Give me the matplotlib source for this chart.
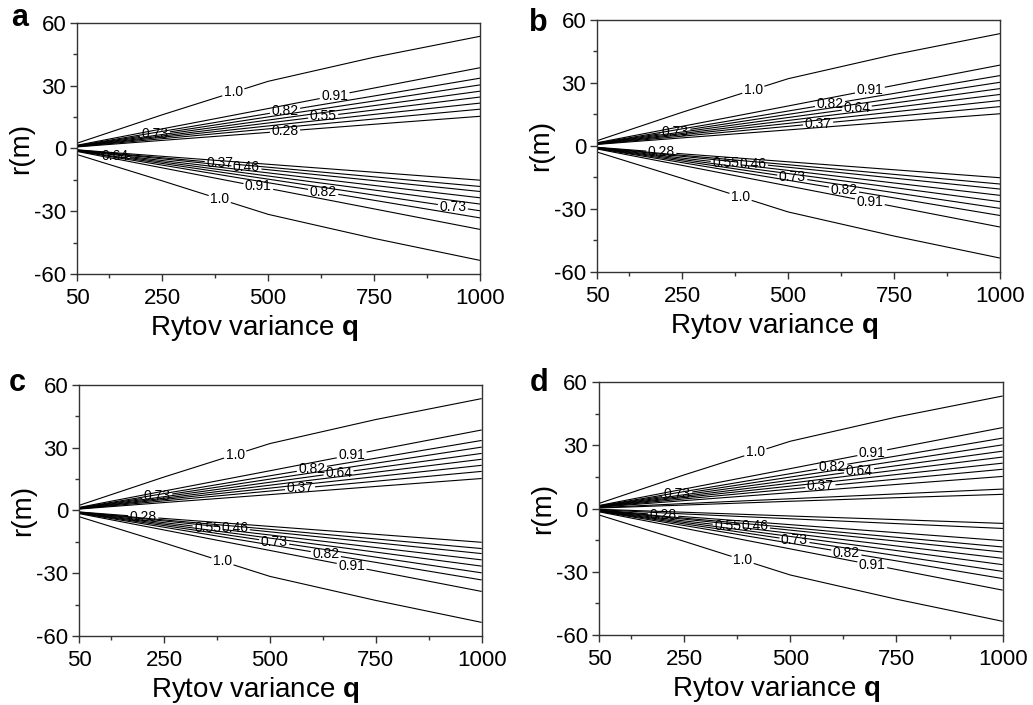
import matplotlib
matplotlib.use("Agg")
import matplotlib.pyplot as plt
import numpy as np
from matplotlib.ticker import FixedLocator, MultipleLocator

plt.rcParams["font.family"] = ["Liberation Sans", "DejaVu Sans"]
plt.rcParams["mathtext.fontset"] = "custom"
plt.rcParams["mathtext.rm"] = "Liberation Sans"
plt.rcParams["mathtext.bf"] = "Liberation Sans:bold"
plt.rcParams["axes.unicode_minus"] = False

W, H = 1033, 705

# sample positions along the Rytov variance axis
Q = [50, 250, 500, 750, 1000]
LEVELS = ["1.0", "0.91", "0.82", "0.73", "0.64", "0.55", "0.46", "0.37", "0.28"]

# r(m) of each contour at Q, upper fan (r > 0) and lower fan (r < 0)
UPPER_R = [
    [2.5, 16.0, 32.0, 43.5, 53.5],
    [1.5, 9.3, 19.0, 28.8, 38.5],
    [1.3, 8.1, 16.6, 25.0, 33.5],
    [1.2, 7.3, 15.0, 22.6, 30.3],
    [1.1, 6.6, 13.5, 20.4, 27.3],
    [1.0, 5.9, 12.1, 18.3, 24.5],
    [0.9, 5.3, 10.7, 16.2, 21.6],
    [0.8, 4.6, 9.3, 14.0, 18.7],
    [0.7, 3.8, 7.6, 11.5, 15.3],
]
LOWER_R = [
    [-3.0, -15.5, -31.5, -43.0, -53.5],
    [-1.5, -9.3, -19.1, -28.9, -38.7],
    [-1.3, -8.0, -16.4, -24.8, -33.2],
    [-1.2, -7.2, -14.7, -22.3, -29.8],
    [-1.1, -6.5, -13.2, -19.9, -26.6],
    [-1.0, -5.8, -11.7, -17.7, -23.6],
    [-0.9, -5.0, -10.2, -15.4, -20.6],
    [-0.8, -4.5, -9.0, -13.6, -18.2],
    [-0.7, -3.8, -7.6, -11.4, -15.2],
]
# two additional inner contours that only appear in panel d
D_EXTRA_UPPER_R = [[0.5, 2.4, 4.7, 7.0, 9.3], [0.3, 1.7, 3.5, 5.2, 6.8]]
D_EXTRA_LOWER_R = [[-0.3, -1.7, -3.5, -5.2, -7.0], [-0.5, -2.5, -4.8, -7.1, -9.4]]

# contour labels: (fan, level, q position)
LABELS_A = [
    ("up", "1.0", 418), ("up", "0.91", 657), ("up", "0.82", 540),
    ("up", "0.55", 630), ("up", "0.28", 540), ("up", "0.73", 233),
    ("low", "0.64", 139), ("low", "0.37", 386), ("low", "0.46", 449),
    ("low", "0.91", 477), ("low", "0.82", 630), ("low", "0.73", 936),
    ("low", "1.0", 386),
]
LABELS_BCD = [
    ("up", "1.0", 418), ("up", "0.91", 693), ("up", "0.82", 599),
    ("up", "0.64", 662), ("up", "0.37", 571), ("up", "0.73", 234),
    ("low", "0.28", 201), ("low", "0.55", 353), ("low", "0.46", 417),
    ("low", "0.73", 510), ("low", "0.82", 632), ("low", "0.91", 693),
    ("low", "1.0", 388),
]

PANELS = ["a", "b", "c", "d"]
# axes boxes in pixels: left, top, right, bottom
AX_BOX = {
    "a": (77.3, 22.7, 480.0, 274.0),
    "b": (597.3, 20.0, 1000.0, 271.7),
    "c": (79.3, 385.0, 481.7, 636.0),
    "d": (599.0, 382.3, 1002.7, 635.0),
}
LETTER_POS = {"a": (11, 26), "b": (529, 31), "c": (9, 391), "d": (530, 391)}


def split_line(qs, rs, gaps):
    qs, rs = np.asarray(qs, float), np.asarray(rs, float)
    spans = [(qs[0], qs[-1])]
    for g0, g1 in sorted(gaps):
        kept = []
        for a, b in spans:
            if g1 <= a or g0 >= b:
                kept.append((a, b))
                continue
            if g0 > a:
                kept.append((a, g0))
            if g1 < b:
                kept.append((g1, b))
        spans = kept
    for a, b in spans:
        inner = (qs > a) & (qs < b)
        x = np.concatenate([[a], qs[inner], [b]])
        yield x, np.interp(x, qs, rs)


fig = plt.figure(figsize=(W / 100, H / 100), dpi=100)
panel_data = {}
for name in PANELS:
    l, t, r, b = AX_BOX[name]
    ax = fig.add_axes([l / W, 1 - b / H, (r - l) / W, (b - t) / H])
    ax.set_xlim(50, 1000)
    ax.set_ylim(-60, 60)
    ax.xaxis.set_major_locator(FixedLocator([50, 250, 500, 750, 1000]))
    ax.xaxis.set_minor_locator(FixedLocator([125, 375, 625, 875]))
    ax.yaxis.set_major_locator(MultipleLocator(30))
    ax.yaxis.set_minor_locator(MultipleLocator(15))
    ax.tick_params(which="both", direction="out", top=False, right=False,
                   color="#333333", width=1.0, labelsize=16)
    ax.tick_params(which="major", length=5)
    ax.tick_params(which="minor", length=3)
    ax.tick_params(axis="x", pad=5)
    ax.tick_params(axis="y", pad=3)
    for sp in ax.spines.values():
        sp.set_color("#333333")
        sp.set_linewidth(1.0)
    ax.set_xlabel(r"Rytov variance $\mathbf{q}$", fontsize=20, labelpad=0)
    ax.xaxis.set_label_coords(0.438, -0.155)
    ax.xaxis.label.set_va("top")
    ax.set_ylabel("r(m)", fontsize=20, labelpad=0)

    fans = {"up": dict(zip(LEVELS, UPPER_R)), "low": dict(zip(LEVELS, LOWER_R))}
    extra = []
    if name == "d":
        extra = D_EXTRA_UPPER_R + D_EXTRA_LOWER_R
    labels = LABELS_A if name == "a" else LABELS_BCD
    texts = []
    for fan, level, q in labels:
        rr = np.interp(q, Q, fans[fan][level])
        txt = ax.text(q, rr, level, ha="center", va="center", fontsize=10, zorder=3)
        texts.append((fan, level, txt))
    panel_data[name] = (ax, fans, extra, texts)
    x0, yb = LETTER_POS[name]
    fig.text(x0 / W, 1 - yb / H, name, fontsize=22, fontweight="bold",
             ha="left", va="baseline")

fig.canvas.draw()
renderer = fig.canvas.get_renderer()
for name in PANELS:
    ax, fans, extra, texts = panel_data[name]
    gaps = {}
    inv = ax.transData.inverted()
    for fan, level, txt in texts:
        bb = txt.get_window_extent(renderer)
        g = inv.transform([[bb.x0 - 1.5, 0], [bb.x1 + 1.5, 0]])[:, 0]
        gaps.setdefault((fan, level), []).append((g[0], g[1]))
    for fan in ("up", "low"):
        for level in LEVELS:
            for x, y in split_line(Q, fans[fan][level], gaps.get((fan, level), [])):
                ax.plot(x, y, color="black", lw=0.8, solid_capstyle="butt")
    for rs in extra:
        ax.plot(Q, rs, color="black", lw=0.8)

fig.savefig("out.png", dpi=100)
